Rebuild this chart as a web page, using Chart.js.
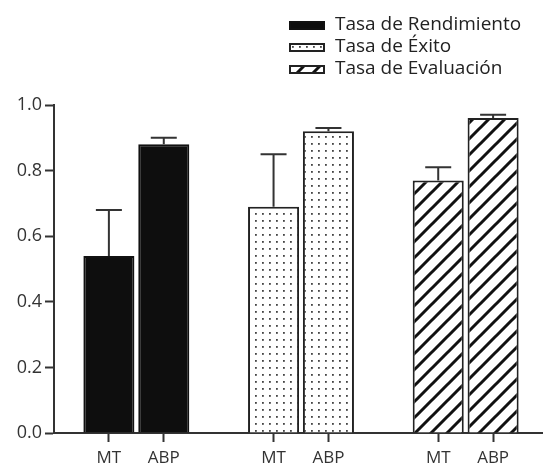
<!DOCTYPE html>
<html>
<head>
<meta charset="utf-8">
<script src="https://cdn.jsdelivr.net/npm/chart.js@4.4.1/dist/chart.umd.min.js"></script>
<style>
  html, body { margin: 0; background: #fff; overflow: hidden; }
  #wrap { position: relative; width: 543px; height: 465px; overflow: hidden; }
  #legend { position: absolute; left: 289px; top: 12px; font-family: 'Open Sans', sans-serif; font-size: 19px; color: #222; }
  #legend .row { display: flex; height: 22px; line-height: 22px; white-space: nowrap; }
  #legend canvas { flex: none; width: 36px; height: 9px; margin-top: 9px; margin-right: 10px; }
</style>
</head>
<body>
<div id="wrap">
  <!-- the x axis runs a little past the right edge of the picture -->
  <canvas id="chart" width="548" height="465"></canvas>
  <div id="legend"></div>
</div>
<script>
// slots on the x axis; blanks keep the gap between groups
const categories = ['', 'MT', 'ABP', '', 'MT', 'ABP', '', 'MT', 'ABP', ''];
const seriesNames = ['Tasa de Rendimiento', 'Tasa de Éxito', 'Tasa de Evaluación'];
const rendimiento = [0.54, 0.88];
const rendimientoErr = [0.14, 0.02];
const exito = [0.69, 0.92];
const exitoErr = [0.16, 0.01];
const evaluacion = [0.77, 0.96];
const evaluacionErr = [0.04, 0.01];
const seriesSlots = [[1, 2], [4, 5], [7, 8]];

// spread a 2-value series onto its category slots
function toSlots(values, slots) {
  const arr = categories.map(() => null);
  slots.forEach((s, i) => { arr[s] = values[i]; });
  return arr;
}

function makePattern(size, draw) {
  const c = document.createElement('canvas');
  c.width = size; c.height = size;
  const g = c.getContext('2d');
  g.fillStyle = '#fff';
  g.fillRect(0, 0, size, size);
  draw(g, size);
  return g.createPattern(c, 'repeat');
}

const dots = makePattern(7, (g) => {
  g.fillStyle = '#444';
  g.fillRect(3, 3, 1.8, 1.8);
});

const hatch = makePattern(16, (g, s) => {
  g.strokeStyle = '#111';
  g.lineWidth = 3;
  g.beginPath();
  g.moveTo(0, s); g.lineTo(s, 0);
  g.moveTo(-2, 2); g.lineTo(2, -2);
  g.moveTo(s - 2, s + 2); g.lineTo(s + 2, s - 2);
  g.stroke();
});

// upper error whiskers
const errorBars = {
  id: 'errorBars',
  afterDatasetsDraw(chart) {
    const ctx = chart.ctx;
    const y = chart.scales.y;
    chart.data.datasets.forEach((ds, i) => {
      const meta = chart.getDatasetMeta(i);
      meta.data.forEach((bar, j) => {
        const v = ds.data[j];
        const e = ds.errors[j];
        if (v == null || e == null) return;
        const top = y.getPixelForValue(v + e);
        ctx.save();
        ctx.strokeStyle = '#333';
        ctx.lineWidth = 2;
        ctx.beginPath();
        ctx.moveTo(bar.x, bar.y);
        ctx.lineTo(bar.x, top);
        ctx.moveTo(bar.x - 13, top);
        ctx.lineTo(bar.x + 13, top);
        ctx.stroke();
        ctx.restore();
      });
    });
  }
};

const fontFamily = "'Open Sans', sans-serif";

const chart = new Chart(document.getElementById('chart'), {
  type: 'bar',
  data: {
    labels: categories,
    datasets: [
      {
        label: seriesNames[0],
        data: toSlots(rendimiento, seriesSlots[0]),
        errors: toSlots(rendimientoErr, seriesSlots[0]),
        backgroundColor: '#0e0e0e',
        borderColor: '#111',
        borderWidth: 2
      },
      {
        label: seriesNames[1],
        data: toSlots(exito, seriesSlots[1]),
        errors: toSlots(exitoErr, seriesSlots[1]),
        backgroundColor: dots,
        borderColor: '#222',
        borderWidth: 2
      },
      {
        label: seriesNames[2],
        data: toSlots(evaluacion, seriesSlots[2]),
        errors: toSlots(evaluacionErr, seriesSlots[2]),
        backgroundColor: hatch,
        borderColor: '#222',
        borderWidth: 2
      }
    ]
  },
  options: {
    responsive: false,
    animation: false,
    grouped: false,
    categoryPercentage: 1,
    barPercentage: 0.93,
    layout: { padding: { top: 105, right: 0, bottom: 0, left: 0 } },
    plugins: {
      legend: { display: false },
      tooltip: { enabled: false }
    },
    scales: {
      x: {
        offset: false,
        afterFit: (scale) => {
          scale.height = 32;
          scale.paddingLeft = 0;
          scale.paddingRight = 0;
        },
        border: { color: '#333', width: 2 },
        grid: {
          offset: false,
          drawOnChartArea: false,
          tickLength: 9,
          tickWidth: 2,
          tickColor: (c) => categories[c.index] ? '#333' : 'rgba(0,0,0,0)'
        },
        ticks: { color: '#333', font: { family: fontFamily, size: 17 }, padding: 6, autoSkip: false, maxRotation: 0 }
      },
      y: {
        min: 0,
        max: 1,
        afterFit: (scale) => { scale.width = 54; },
        border: { color: '#333', width: 2 },
        grid: { drawOnChartArea: false, tickLength: 9, tickWidth: 2, tickColor: '#333' },
        ticks: { stepSize: 0.2, color: '#333', font: { family: fontFamily, size: 18 }, padding: 3, callback: (v) => v.toFixed(1) }
      }
    }
  },
  plugins: [errorBars]
});

// legend built from the chart's datasets
const legendEl = document.getElementById('legend');
chart.data.datasets.forEach((ds) => {
  const row = document.createElement('div');
  row.className = 'row';
  const sw = document.createElement('canvas');
  sw.width = 36; sw.height = 9;
  const g = sw.getContext('2d');
  g.fillStyle = ds.backgroundColor;
  g.fillRect(0, 0, 36, 9);
  g.strokeStyle = ds.borderColor;
  g.lineWidth = 2;
  g.strokeRect(1, 1, 34, 7);
  const txt = document.createElement('span');
  txt.textContent = ds.label;
  row.appendChild(sw);
  row.appendChild(txt);
  legendEl.appendChild(row);
});
</script>
</body>
</html>
